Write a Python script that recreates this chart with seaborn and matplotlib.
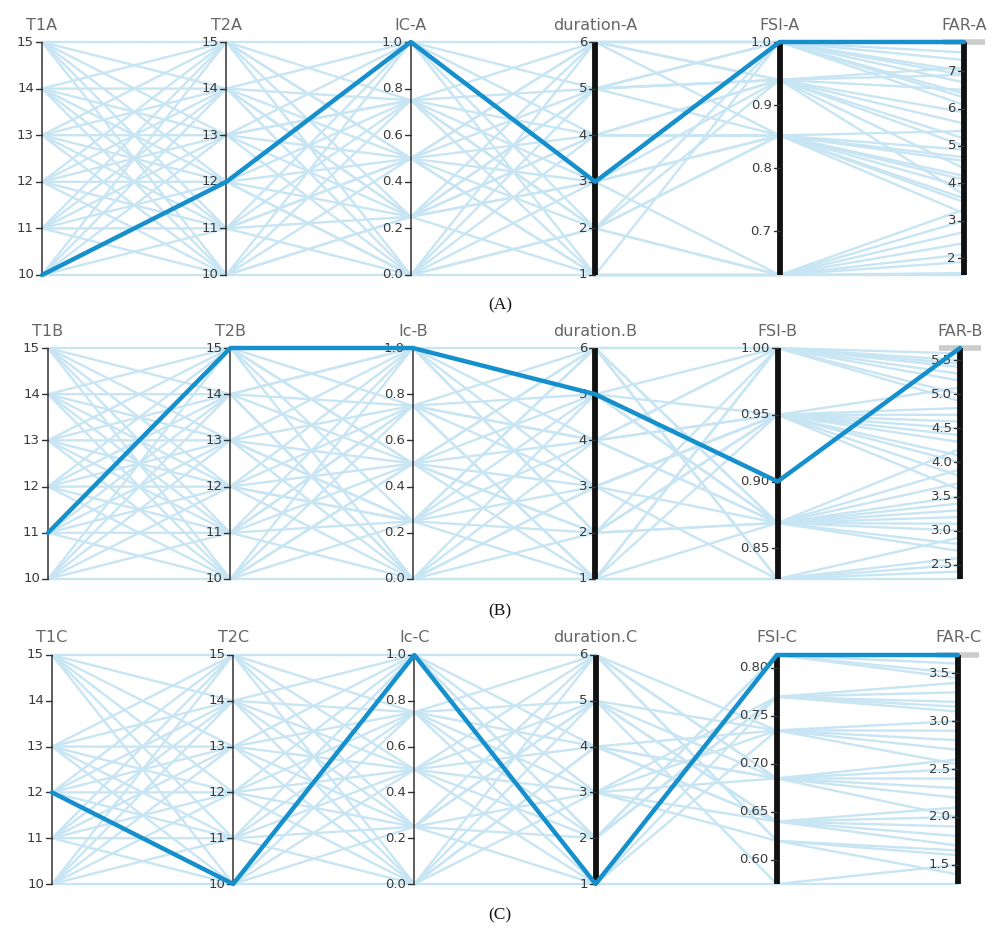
import numpy as np
import pandas as pd
import matplotlib
matplotlib.use("Agg")
import matplotlib.pyplot as plt
import seaborn as sns

# ---------------- data ----------------
names_A = ["T1A", "T2A", "IC-A", "duration-A", "FSI-A", "FAR-A"]
t1_A = [10,10,10,10,10,10, 11,11,11,11,11,11, 12,12,12,12,12,12, 13,13,13,13,13,13, 14,14,14,14,14,14, 15,15,15,15,15,15]
t2_A = [10,11,12,13,14,15, 10,11,12,13,14,15, 10,11,12,13,14,15, 10,11,12,13,14,15, 10,11,12,13,14,15, 10,11,12,13,14,15]
ic_A = [0.0,0.5,1.0,0.25,0.75,0.5, 0.75,0.0,0.25,1.0,0.5,0.25, 0.5,1.0,0.75,0.0,0.25,1.0,
        0.25,0.75,0.5,0.75,0.0,0.5, 1.0,0.25,0.0,0.5,1.0,0.75, 0.25,0.5,0.0,0.75,0.25,0.0]
dur_A = [1,4,3,6,2,5, 5,2,4,1,6,3, 2,6,1,5,3,4, 1,3,6,4,2,1, 2,5,4,3,5,6, 4,1,6,2,5,3]
fsi_A = [0.631,0.852,1.0,0.94,0.852,1.0, 0.94,0.631,0.852,1.0,0.94,0.631, 0.852,1.0,0.631,0.94,1.0,0.852,
         0.631,0.94,1.0,0.852,0.94,0.631, 1.0,0.852,0.94,0.852,0.94,1.0, 0.94,0.631,0.852,0.631,1.0,0.852]
far_A = [1.6,4.2,7.78,5.9,3.6,6.4, 6.9,2.1,4.6,7.3,5.2,3.3, 3.9,6.9,2.7,4.4,6.1,5.4,
         1.9,6.5,7.0,4.9,3.7,3.0, 6.7,3.5,5.6,4.1,7.1,7.5, 5.0,2.4,3.2,1.55,6.3,4.7]
hl_A = 2

names_B = ["T1B", "T2B", "Ic-B", "duration.B", "FSI-B", "FAR-B"]
t1_B = [10,10,10,10,10,10, 11,11,11,11,11,11, 12,12,12,12,12,12, 13,13,13,13,13,13, 14,14,14,14,14,14, 15,15,15,15,15,15]
t2_B = [10,11,12,13,14,15, 10,11,12,13,14,15, 10,11,12,13,14,15, 10,11,12,13,14,15, 10,11,12,13,14,15, 10,11,12,13,14,15]
ic_B = [0.0,0.75,0.25,1.0,0.5,0.25, 0.5,0.25,0.75,0.0,1.0,1.0, 0.75,0.5,0.0,0.25,1.0,0.5,
        0.25,1.0,0.5,0.75,0.0,0.75, 1.0,0.0,0.25,0.5,0.75,0.0, 0.5,0.75,1.0,0.25,0.0,0.5]
dur_B = [1,3,5,2,6,4, 2,6,1,4,3,5, 4,1,3,6,2,5, 3,5,2,6,1,4, 6,2,1,4,5,3, 3,1,4,2,5,6]
fsi_B = [0.827,0.95,0.869,1.0,0.869,0.95, 0.95,0.827,1.0,0.869,0.95,0.90, 0.869,1.0,0.95,0.869,0.95,1.0,
         0.869,0.95,0.869,1.0,0.827,0.95, 1.0,0.869,0.95,1.0,0.869,0.827, 0.95,0.869,1.0,0.95,0.869,0.827]
far_B = [2.5,4.6,3.4,5.3,3.0,4.1, 4.8,2.29,5.5,3.7,5.1,5.68, 3.9,4.9,3.6,2.8,4.4,5.2,
         3.2,4.7,4.2,5.6,2.6,4.0, 5.4,3.3,3.8,5.0,3.5,2.9, 4.5,3.1,5.45,4.3,2.7,2.4]
hl_B = 11

names_C = ["T1C", "T2C", "Ic-C", "duration.C", "FSI-C", "FAR-C"]
t1_C = [10,10,10,10,10,10, 11,11,11,11,11,11, 12,12,12,12,12,12, 13,13,13,13,13,13, 15,15,15,15,15,15]
t2_C = [10,11,12,13,14,15, 10,11,12,13,14,15, 10,11,12,13,14,15, 10,11,12,13,14,15, 10,11,12,13,14,15]
ic_C = [0.0,0.5,0.25,1.0,0.75,0.25, 0.75,0.0,0.5,0.25,1.0,0.0, 1.0,0.25,0.75,0.5,0.0,1.0,
        0.5,0.75,1.0,0.0,0.25,0.5, 0.25,1.0,0.0,0.75,0.5,0.75]
dur_C = [1,3,5,2,4,6, 2,4,6,1,3,5, 1,3,5,2,6,4, 4,1,6,3,2,5, 5,2,4,6,1,3]
fsi_C = [0.575,0.735,0.64,0.77,0.685,0.62, 0.8135,0.64,0.685,0.735,0.77,0.575, 0.8135,0.685,0.64,0.77,0.62,0.735,
         0.685,0.8135,0.735,0.64,0.77,0.685, 0.735,0.8135,0.64,0.685,0.77,0.62]
far_C = [1.3,2.9,1.9,3.3,2.4,1.6, 3.5,2.0,2.2,2.7,3.1,1.5, 3.69,2.6,1.8,3.4,1.4,3.0,
         2.3,3.6,2.8,2.1,3.2,2.5, 2.55,3.45,1.7,2.0,3.15,1.65]
hl_C = 12

ticks_T = [10, 11, 12, 13, 14, 15]
ticks_IC = [0.0, 0.2, 0.4, 0.6, 0.8, 1.0]
ticks_dur = [1, 2, 3, 4, 5, 6]
ticks_fsi_A = [0.7, 0.8, 0.9, 1.0]
ticks_far_A = [2, 3, 4, 5, 6, 7]
ticks_fsi_B = [0.85, 0.90, 0.95, 1.00]
ticks_far_B = [2.5, 3.0, 3.5, 4.0, 4.5, 5.0, 5.5]
ticks_fsi_C = [0.60, 0.65, 0.70, 0.75, 0.80]
ticks_far_C = [1.5, 2.0, 2.5, 3.0, 3.5]

# ---------------- style ----------------
sns.set_theme(style="white")
plt.rcParams["font.family"] = ["DejaVu Sans"]

LIGHT = "#c8e5f4"
DARK = "#1690cc"
W, H = 989, 927
fig = plt.figure(figsize=(W / 100, H / 100), dpi=100)
fig.patch.set_facecolor("white")

panels = [
    dict(names=names_A, cols=[t1_A, t2_A, ic_A, dur_A, fsi_A, far_A], hl=hl_A,
         ticks=[ticks_T, ticks_T, ticks_IC, ticks_dur, ticks_fsi_A, ticks_far_A],
         fmts=["{:.0f}", "{:.0f}", "{:.1f}", "{:.0f}", "{:.1f}", "{:.0f}"],
         box=(42, 964, 42, 275), cap="(A)", cap_y=305),
    dict(names=names_B, cols=[t1_B, t2_B, ic_B, dur_B, fsi_B, far_B], hl=hl_B,
         ticks=[ticks_T, ticks_T, ticks_IC, ticks_dur, ticks_fsi_B, ticks_far_B],
         fmts=["{:.0f}", "{:.0f}", "{:.1f}", "{:.0f}", "{:.2f}", "{:.1f}"],
         box=(48, 960, 348, 579), cap="(B)", cap_y=611),
    dict(names=names_C, cols=[t1_C, t2_C, ic_C, dur_C, fsi_C, far_C], hl=hl_C,
         ticks=[ticks_T, ticks_T, ticks_IC, ticks_dur, ticks_fsi_C, ticks_far_C],
         fmts=["{:.0f}", "{:.0f}", "{:.1f}", "{:.0f}", "{:.2f}", "{:.1f}"],
         box=(52, 958, 655, 884), cap="(C)", cap_y=915),
]

for p in panels:
    xl, xr, yt, yb = p["box"]
    ax = fig.add_axes([xl / W, 1 - yb / H, (xr - xl) / W, (yb - yt) / H])
    ax.set_xlim(0, 5)
    ax.set_ylim(0, 1)
    ax.axis("off")
    px_per_x = (xr - xl) / 5.0
    px_per_y = float(yb - yt)

    cols = [np.asarray(c, dtype=float) for c in p["cols"]]
    mins = [c.min() for c in cols]
    maxs = [c.max() for c in cols]
    n = len(cols[0])
    recs = []
    for j, c in enumerate(cols):
        for i in range(n):
            recs.append(dict(row=i, pos=j, val=(c[i] - mins[j]) / (maxs[j] - mins[j]),
                             hl=(i == p["hl"])))
    df = pd.DataFrame(recs)

    sns.lineplot(data=df[~df.hl], x="pos", y="val", units="row", estimator=None,
                 color=LIGHT, lw=1.7, sort=False, ax=ax, legend=False, zorder=1)

    # axes
    tl = 6.0 / px_per_x
    for j in range(6):
        thick = j >= 3
        ax.plot([j, j], [0, 1], color="#111111" if thick else "#333333",
                lw=4.2 if thick else 1.1, solid_capstyle="butt", zorder=3, clip_on=False)
        for t in p["ticks"][j]:
            y = (t - mins[j]) / (maxs[j] - mins[j])
            ax.plot([j - tl, j], [y, y], color="#333333", lw=1.0, zorder=3, clip_on=False)
            ax.text(j - tl - 2.0 / px_per_x, y, p["fmts"][j].format(t), ha="right",
                    va="center", fontsize=9.5, color="#3a3a3a", zorder=4)
        ax.text(j, 1 + 17.0 / px_per_y, p["names"][j], ha="center", va="center",
                fontsize=11.5, color="#666666")

    # gray bar at FAR top
    ax.plot([5 - 21.0 / px_per_x, 5 + 21.0 / px_per_x], [1, 1], color="#cccccc",
            lw=4, solid_capstyle="butt", zorder=2, clip_on=False)

    sns.lineplot(data=df[df.hl], x="pos", y="val", units="row", estimator=None,
                 color=DARK, lw=3.2, sort=False, ax=ax, legend=False, zorder=5)
    ax.set_xlabel("")
    ax.set_ylabel("")
    for ln in ax.lines:
        ln.set_clip_on(False)

    fig.text(500 / W, 1 - p["cap_y"] / H, p["cap"], ha="center", va="center",
             family="Liberation Serif", fontsize=12.5, color="#111111")

fig.savefig("out.png", dpi=100, facecolor="white")
